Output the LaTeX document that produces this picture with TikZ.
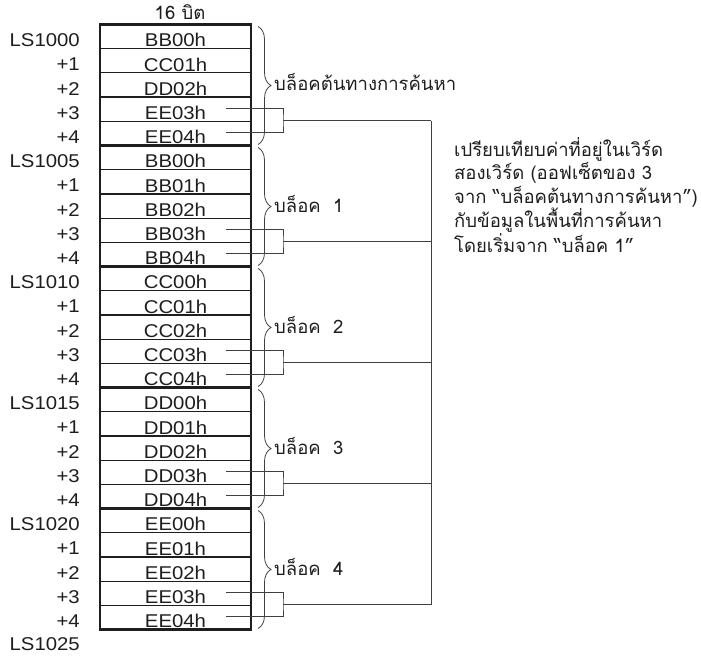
\documentclass[tikz,border=0pt]{standalone}
\usepackage{fontspec}
\setmainfont{Liberation Sans}
\newfontfamily\widesans[FakeStretch=1.1]{Liberation Sans}
\newfontfamily\thaifont[Script=Thai]{Loma}
\usetikzlibrary{decorations.pathreplacing}
\definecolor{ink}{HTML}{1E1E1E}
\definecolor{wire}{HTML}{404040}
\begin{document}
\begin{tikzpicture}[x=1pt,y=-1pt,
  celltext/.style={font=\widesans\fontsize{18.5}{20}\selectfont,text=ink,anchor=base,inner sep=0pt},
  addr/.style={font=\widesans\fontsize{18.5}{20}\selectfont,text=ink,anchor=base east,inner sep=0pt},
  thai/.style={font=\thaifont\fontsize{18.5}{20}\selectfont,text=ink,anchor=base west,inner sep=0pt},
  thinrule/.style={draw=ink,line width=1.2pt},
  thickrule/.style={draw=ink,line width=2.2pt},
  wireline/.style={draw=wire,line width=0.9pt},
  bracestyle/.style={draw=wire,line width=0.8pt,decorate,decoration={brace,amplitude=13pt}}]
\useasboundingbox (0,0) rectangle (701,658);
\def\yt{24.5}
\def\rh{24.2}
% header
\node[thai,anchor=base] (hdr) at (180,20) {16 บิต};
% row lines
\foreach \i in {1,...,24}{
  \pgfmathtruncatemacro{\m}{mod(\i,5)}
  \ifnum\m=0
    \draw[thickrule] (100,{\yt+\rh*\i}) -- (251,{\yt+\rh*\i});
  \else
    \draw[thinrule] (100,{\yt+\rh*\i}) -- (251,{\yt+\rh*\i});
  \fi
}
\draw[thickrule] (100,\yt) rectangle (251,{\yt+\rh*25});
% cell texts
\foreach \t [count=\i from 0] in {BB00h,CC01h,DD02h,EE03h,EE04h,BB00h,BB01h,BB02h,BB03h,BB04h,CC00h,CC01h,CC02h,CC03h,CC04h,DD00h,DD01h,DD02h,DD03h,DD04h,EE00h,EE01h,EE02h,EE03h,EE04h}{
  \node[celltext] (c\i) at (175.5,{\yt+\rh*(\i+1)-1.8}) {\t};
}
% address labels
\foreach \b in {0,...,4}{
  \pgfmathtruncatemacro{\addrnum}{1000+5*\b}
  \node[addr] (a\b-0) at (80,{\yt+\rh*(5*\b+1)-2}) {LS\addrnum};
  \foreach \k in {1,...,4}{
    \node[addr] (a\b-\k) at (80,{\yt+\rh*(5*\b+\k+1)-2}) {+\k};
  }
}
\node[addr] (aend) at (80,{\yt+\rh*26-3}) {LS1025};
% braces and labels
\foreach \b/\lab in {0/บล็อคต้นทางการค้นหา,1/บล็อค\ \ 1,2/บล็อค\ \ 2,3/บล็อค\ \ 3,4/บล็อค\ \ 4}{
  \draw[bracestyle] (258,{\yt+\rh*5*\b+2}) -- (258,{\yt+\rh*5*(\b+1)-1});
  \node[thai] (bl\b) at (274,{\yt+\rh*(5*\b+2.5)+6}) {\lab};
}
% connectors
\foreach \b in {0,...,4}{
  \coordinate (p\b a) at (226,{\yt+\rh*(5*\b+3.5)-1});
  \coordinate (p\b b) at (226,{\yt+\rh*(5*\b+4.5)-1});
  \coordinate (q\b) at (283,{\yt+\rh*(5*\b+4)-0.5});
  \coordinate (r\b) at (431,{\yt+\rh*(5*\b+4)-0.5});
  \draw[wireline] (p\b a) -| (q\b) |- (p\b b);
  \draw[wireline] (q\b) -- (r\b);
}
\draw[wireline] (r0) -- (r4);
% description
\node[thai,align=left,anchor=north west,inner sep=0pt,font=\thaifont\fontsize{18.5}{23.4}\selectfont] (desc) at (454,137) {เปรียบเทียบค่าที่อยู่ในเวิร์ด\\สองเวิร์ด (ออฟเซ็ตของ 3\\จาก “บล็อคต้นทางการค้นหา”)\\กับข้อมูลในพื้นที่การค้นหา\\โดยเริ่มจาก “บล็อค 1”};
\end{tikzpicture}
\end{document}
